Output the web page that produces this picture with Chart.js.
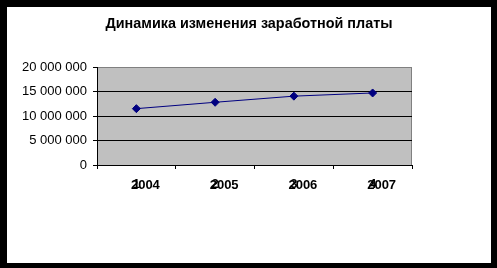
<!DOCTYPE html>
<html>
<head>
<meta charset="utf-8">
<script src="https://cdn.jsdelivr.net/npm/chart.js@4/dist/chart.umd.min.js"></script>
<style>
  html, body { margin: 0; padding: 0; background: #000; }
  #frame { position: relative; width: 497px; height: 268px; background: #000; }
  #inner { position: absolute; left: 7px; top: 7px; width: 484px; height: 256px; background: #fff; }
  canvas { display: block; }
</style>
</head>
<body>
<div id="frame"><div id="inner"><canvas id="salary-chart" width="484" height="256"></canvas></div></div>
<script>
const chartTitle = 'Динамика изменения заработной платы';
const categoryNumbers = ['1', '2', '3', '4'];
const years = ['2004', '2005', '2006', '2007'];
const salaryValues = [11500000, 12800000, 14050000, 14700000];
const yTicks = [0, 5000000, 10000000, 15000000, 20000000];

const FONT = 'Liberation Sans, Arial, sans-serif';

function formatSpaced(value) {
  return String(value).replace(/\B(?=(\d{3})+(?!\d))/g, ' ');
}

// gray plot area with its border, drawn before the grid
const plotBackground = {
  id: 'plotBackground',
  beforeDraw(chart) {
    const { ctx, chartArea: a } = chart;
    ctx.save();
    ctx.fillStyle = '#c0c0c0';
    ctx.fillRect(a.left, a.top, a.right - a.left, a.bottom - a.top);
    ctx.strokeStyle = '#808080';
    ctx.lineWidth = 1;
    ctx.strokeRect(a.left + 0.5, a.top + 0.5, a.right - a.left - 1, a.bottom - a.top);
    ctx.restore();
  }
};

// title centred on the whole picture, year labels over the category numbers
const overlayText = {
  id: 'overlayText',
  afterDraw(chart) {
    const { ctx, scales } = chart;
    const x = scales.x;
    ctx.save();
    ctx.fillStyle = '#000';
    ctx.textAlign = 'center';
    ctx.textBaseline = 'middle';
    ctx.font = 'bold 14.4px ' + FONT;
    ctx.fillText(chartTitle, chart.width / 2, 17);
    ctx.font = 'bold 13px ' + FONT;
    years.forEach((year, i) => {
      ctx.fillText(year, x.getPixelForValue(i) + 9, 178);
    });
    ctx.restore();
  }
};

new Chart(document.getElementById('salary-chart'), {
  type: 'line',
  data: {
    labels: categoryNumbers,
    datasets: [{
      data: salaryValues,
      borderColor: '#000080',
      backgroundColor: '#000080',
      borderWidth: 1,
      pointStyle: 'rectRot',
      pointRadius: 4,
      pointBorderWidth: 1,
      tension: 0
    }]
  },
  options: {
    responsive: false,
    animation: false,
    layout: { padding: { left: 0, right: 79, top: 60, bottom: 0 } },
    plugins: {
      legend: { display: false },
      tooltip: { enabled: false },
      title: { display: false }
    },
    scales: {
      x: {
        offset: true,
        grid: {
          offset: true,
          drawOnChartArea: false,
          drawTicks: true,
          tickLength: 4,
          color: '#000'
        },
        border: { color: '#000', width: 1 },
        ticks: {
          color: '#000',
          font: { family: FONT, size: 13, weight: 'bold' },
          padding: 8,
          maxRotation: 0,
          autoSkip: false
        },
        afterFit(scale) { scale.height = 98; }
      },
      y: {
        min: 0,
        max: 20000000,
        afterBuildTicks(scale) { scale.ticks = yTicks.map(v => ({ value: v })); },
        grid: {
          color: (c) => (c.tick && c.tick.value === 20000000 ? '#808080' : '#000'),
          tickLength: 4,
          tickColor: '#000'
        },
        border: { color: '#000', width: 1 },
        ticks: {
          color: '#000',
          font: { family: FONT, size: 13 },
          padding: 6,
          callback: (v) => formatSpaced(v)
        },
        afterFit(scale) { scale.width = 90; }
      }
    }
  },
  plugins: [plotBackground, overlayText]
});
</script>
</body>
</html>
